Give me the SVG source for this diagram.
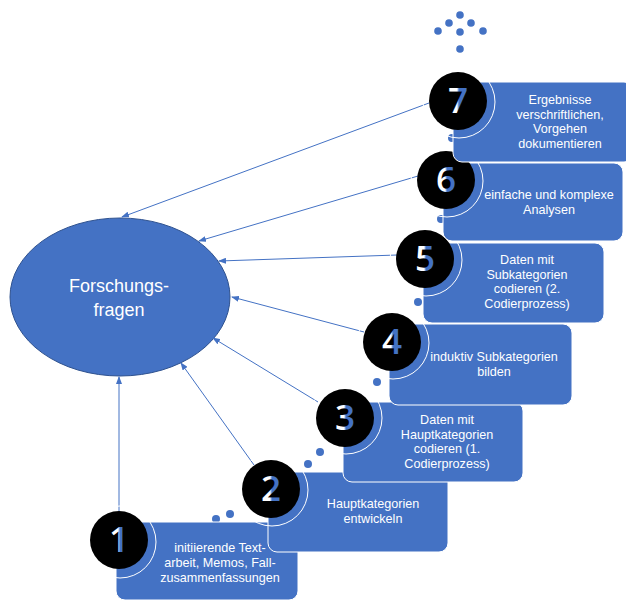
<svg xmlns="http://www.w3.org/2000/svg" width="626" height="602" viewBox="0 0 626 602">
<style>
.box{fill:#4472C4;stroke:#ffffff;stroke-width:1}
.num{fill:#000000}
.ring{fill:none;stroke:#ffffff;stroke-width:1}
.dig{font-family:"Open Sans","Liberation Sans",sans-serif;font-size:35px;font-weight:600;text-anchor:middle;fill:url(#dg)}
.t{font-family:"Liberation Sans","Open Sans",sans-serif;font-size:12.6px;fill:#ffffff;text-anchor:middle}
.dot{fill:#4472C4}
.con{stroke:#4472C4;stroke-width:1;fill:none;marker-end:url(#ah)}
</style>
<defs>
<linearGradient id="dg" x1="0" y1="0" x2="1" y2="0">
<stop offset="0" stop-color="#ffffff"/>
<stop offset="0.45" stop-color="#ffffff"/>
<stop offset="0.55" stop-color="#4472C4"/>
<stop offset="1" stop-color="#4472C4"/>
</linearGradient>
<marker id="ah" markerWidth="8" markerHeight="6" refX="7" refY="3" orient="auto" markerUnits="userSpaceOnUse">
<path d="M0,0 L8,3 L0,6 Z" fill="#4472C4"/>
</marker>
</defs>

<g id="decor">
<circle class="dot" cx="460" cy="15" r="3.8"/>
<circle class="dot" cx="449" cy="23" r="3.8"/>
<circle class="dot" cx="471" cy="23" r="3.8"/>
<circle class="dot" cx="438" cy="31" r="3.8"/>
<circle class="dot" cx="460" cy="32" r="3.8"/>
<circle class="dot" cx="483" cy="31" r="3.8"/>
<circle class="dot" cx="460" cy="49" r="3.8"/>
<circle class="dot" cx="216" cy="519" r="4"/>
<circle class="dot" cx="230" cy="514" r="4"/>
<circle class="dot" cx="308" cy="464" r="4"/>
<circle class="dot" cx="320" cy="452" r="4"/>
<circle class="dot" cx="377" cy="382" r="4"/>
<circle class="dot" cx="418" cy="302" r="4"/>
<circle class="dot" cx="441" cy="219" r="4"/>
<circle class="dot" cx="452" cy="138" r="4"/>
</g>

<g id="forschungsfragen">
<ellipse cx="120" cy="297" rx="110" ry="79" fill="#4472C4" stroke="#2F528F" stroke-width="1"/>
<text x="119" y="292" font-family="Liberation Sans, Open Sans, sans-serif" font-size="18" fill="#ffffff" text-anchor="middle">Forschungs-</text>
<text x="119" y="316" font-family="Liberation Sans, Open Sans, sans-serif" font-size="18" fill="#ffffff" text-anchor="middle">fragen</text>
</g>

<g id="connectors">
<line class="con" x1="119" y1="511" x2="119" y2="377"/>
<line class="con" x1="254" y1="465" x2="181" y2="363"/>
<line class="con" x1="318" y1="402" x2="213" y2="338"/>
<line class="con" x1="364" y1="332" x2="232" y2="297"/>
<line class="con" x1="397" y1="255" x2="219" y2="261"/>
<line class="con" x1="418" y1="176" x2="199" y2="241"/>
<line class="con" x1="429" y1="103" x2="122" y2="217"/>
</g>

<g id="step1">
<rect class="box" x="116" y="522" width="182" height="78" rx="9"/>
<circle class="ring" cx="120" cy="542" r="36"/>
<circle class="num" cx="119" cy="540" r="29"/>
<text class="dig" x="119" y="552">1</text>
<text class="t" x="220" y="552">initiierende Text-</text>
<text class="t" x="220" y="567">arbeit, Memos, Fall-</text>
<text class="t" x="220" y="582">zusammenfassungen</text>
</g>

<g id="step2">
<rect class="box" x="268" y="472" width="180" height="80" rx="9"/>
<circle class="ring" cx="272" cy="490" r="36"/>
<circle class="num" cx="271" cy="489" r="29"/>
<text class="dig" x="271" y="501">2</text>
<text class="t" x="373" y="508">Hauptkategorien</text>
<text class="t" x="373" y="523">entwickeln</text>
</g>

<g id="step3">
<rect class="box" x="343" y="402" width="180" height="80" rx="9"/>
<circle class="ring" cx="346" cy="418" r="36"/>
<circle class="num" cx="345" cy="418" r="29"/>
<text class="dig" x="345" y="430">3</text>
<text class="t" x="447" y="424">Daten mit</text>
<text class="t" x="447" y="438.5">Hauptkategorien</text>
<text class="t" x="447" y="453">codieren (1.</text>
<text class="t" x="447" y="467.5">Codierprozess)</text>
</g>

<g id="step4">
<rect class="box" x="389" y="324" width="183" height="81" rx="9"/>
<circle class="ring" cx="393" cy="343" r="36"/>
<circle class="num" cx="392" cy="342" r="29"/>
<text class="dig" x="392" y="354">4</text>
<text class="t" x="494" y="361">induktiv Subkategorien</text>
<text class="t" x="494" y="376">bilden</text>
</g>

<g id="step5">
<rect class="box" x="423" y="243" width="181" height="80" rx="9"/>
<circle class="ring" cx="426" cy="260" r="36"/>
<circle class="num" cx="425" cy="259" r="29"/>
<text class="dig" x="425" y="271">5</text>
<text class="t" x="527" y="264">Daten mit</text>
<text class="t" x="527" y="278.5">Subkategorien</text>
<text class="t" x="527" y="293">codieren (2.</text>
<text class="t" x="527" y="307.5">Codierprozess)</text>
</g>

<g id="step6">
<rect class="box" x="443" y="163" width="180" height="78" rx="9"/>
<circle class="ring" cx="447" cy="181" r="36"/>
<circle class="num" cx="446" cy="180" r="29"/>
<text class="dig" x="446" y="192">6</text>
<text class="t" x="549" y="199">einfache und komplexe</text>
<text class="t" x="549" y="214">Analysen</text>
</g>

<g id="step7">
<rect class="box" x="453" y="82" width="180" height="80" rx="9"/>
<circle class="ring" cx="459" cy="102" r="36"/>
<circle class="num" cx="458" cy="101" r="29"/>
<text class="dig" x="458" y="113">7</text>
<text class="t" x="560" y="104">Ergebnisse</text>
<text class="t" x="560" y="118.5">verschriftlichen,</text>
<text class="t" x="560" y="133">Vorgehen</text>
<text class="t" x="560" y="147.5">dokumentieren</text>
</g>
</svg>
